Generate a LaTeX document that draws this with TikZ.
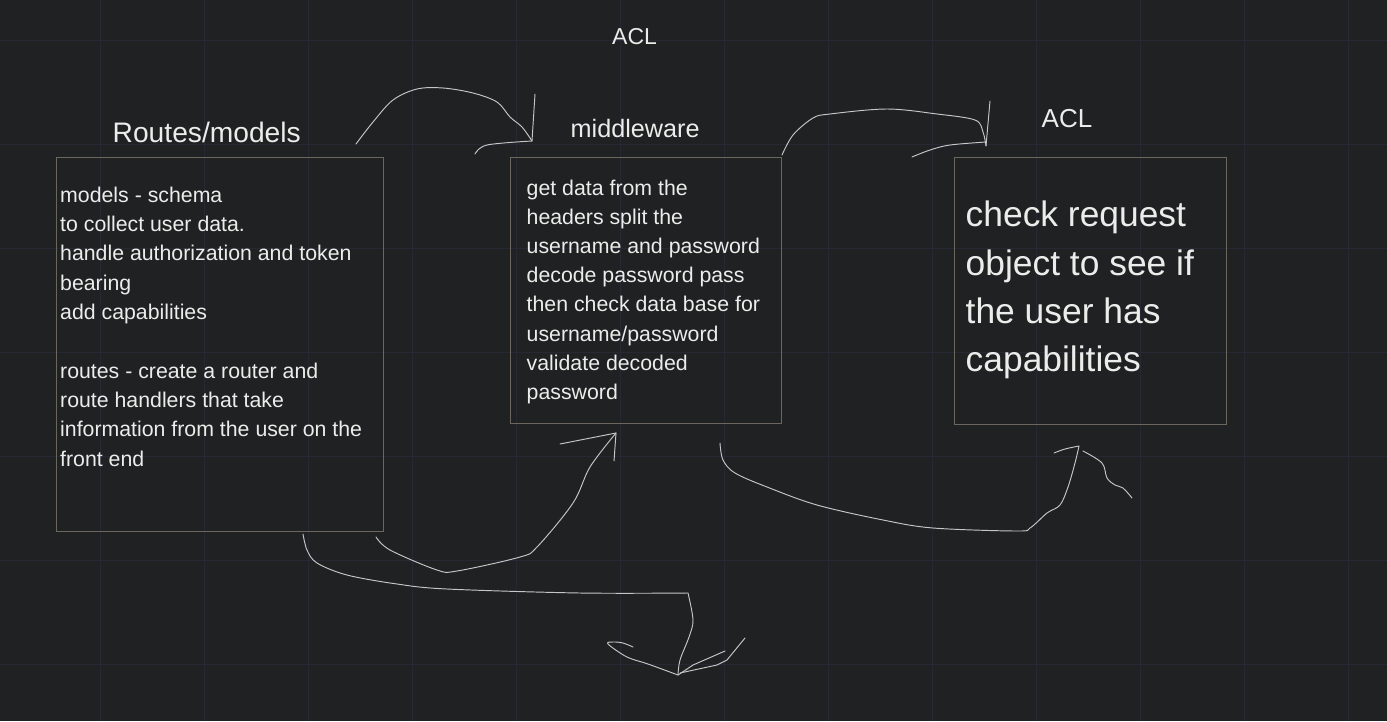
\documentclass[tikz,border=0pt]{standalone}
\usepackage{fontspec}
\setmainfont{Liberation Sans}
\definecolor{bgc}{HTML}{1F2123}
\definecolor{gridc}{HTML}{262833}
\definecolor{boxc}{HTML}{6C675E}
\definecolor{txtc}{HTML}{ECECEA}
\definecolor{penc}{HTML}{C6C6C6}
\newcommand\mylines[1]{\vtop{#1}}
\tikzset{
  panel/.style={draw=boxc, line width=1pt, inner sep=0pt, anchor=north west, rectangle},
  label/.style={text=txtc, inner sep=0pt, anchor=base west},
  pen/.style={draw=penc, line width=0.95pt, line cap=round, line join=round},
  scribble/.style={pen, smooth, tension=0.55}
}
\begin{document}
\begin{tikzpicture}[x=1pt,y=-1pt]
\fill[bgc] (0,0) rectangle (1387,721);
\useasboundingbox (0,0) rectangle (1387,721);
% grid
\foreach \gx in {100,204,...,1400} \draw[gridc, line width=0.8pt] (\gx,0) -- (\gx,721);
\foreach \gy in {40,144,...,700} \draw[gridc, line width=0.8pt] (0,\gy) -- (1387,\gy);

% boxes
\node[panel, minimum width=327pt, minimum height=374pt] (routes) at (56,157) {};
\node[panel, minimum width=271pt, minimum height=266pt] (mid) at (510,157) {};
\node[panel, minimum width=272pt, minimum height=267pt] (acl) at (954,157) {};

% titles
\node[label, font=\fontsize{23}{27}\selectfont] (acltop) at (612,44.3) {ACL};
\node[label, font=\fontsize{28.2}{32}\selectfont] (routestitle) at (112.5,142.7) {Routes/models};
\node[label, font=\fontsize{25.2}{30}\selectfont] (midtitle) at (570.5,137.7) {middleware};
\node[label, font=\fontsize{26}{30}\selectfont] (acltitle) at (1041.5,127.3) {ACL};

% box texts
\node[label, font=\fontsize{21.3}{29.3}\selectfont] (routestext) at (60,202.3) {\mylines{%
\hbox{models - schema}
\hbox{to collect user data.}
\hbox{handle authorization and token}
\hbox{bearing}
\hbox{add capabilities}
\hbox{}
\hbox{routes - create a router and}
\hbox{route handlers that take}
\hbox{information from the user on the}
\hbox{front end}}};
\node[label, font=\fontsize{21.3}{29.2}\selectfont] (midtext) at (526.5,195) {\mylines{%
\hbox{get data from the}
\hbox{headers split the}
\hbox{username and password}
\hbox{decode password pass}
\hbox{then check data base for}
\hbox{username/password}
\hbox{validate decoded}
\hbox{password}}};
\node[label, font=\fontsize{35.4}{48.3}\selectfont] (acltext) at (965.5,226.7) {\mylines{%
\hbox{check request}
\hbox{object to see if}
\hbox{the user has}
\hbox{capabilities}}};

% connector end points
\coordinate (c1s) at (356,144);
\coordinate (c1e) at (532,141);
\coordinate (c2s) at (782,155);
\coordinate (c2e) at (986,146);
\coordinate (c3s) at (376,537);
\coordinate (c3e) at (616,433);
\coordinate (c4s) at (303,534);
\coordinate (c4k) at (688,593);
\coordinate (c4e) at (678,675);
\coordinate (c5s) at (720,443);
\coordinate (c5e) at (1079,446);

% routes -> middleware (top)
\draw[scribble] plot coordinates {(c1s) (373,122) (393,100) (417,89) (443,88) (473,93) (497,102) (510,117) (522,127) (c1e)};
\draw[pen] (535,94) -- (c1e);
\draw[scribble] plot coordinates {(c1e) (487,145) (475,154)};

% middleware -> ACL (top)
\draw[scribble] plot coordinates {(c2s) (793,135) (813,118) (830,114) (887,109) (937,114) (975,120) (983,132) (c2e)};
\draw[pen] (990,101) -- (c2e);
\draw[scribble] plot coordinates {(986,142) (950,145) (930,150) (912,157)};

% routes -> middleware (bottom)
\draw[scribble] plot coordinates {(c3s) (390,550) (437,570) (457,571) (520,557) (537,547) (573,503) (590,467) (c3e)};
\draw[pen] (560,444) -- (c3e);
\draw[pen] (614,461) -- (c3e);

% routes -> down
\draw[scribble] plot coordinates {(c4s) (307,550) (317,563) (347,575) (397,584) (447,589) (580,593) (c4k)};
\draw[scribble] plot coordinates {(c4k) (693,620) (689,637) (680,660) (c4e)};
\draw[scribble] plot coordinates {(c4e) (648,664) (627,657) (608,644) (613,642) (623,643) (633,647)};
\draw[pen] (c4e) -- (693,665) -- (725,651);
\draw[pen] (680,673) -- (717,665) -- (727,660) -- (745,638);

% middleware -> ACL (bottom)
\draw[scribble] plot coordinates {(c5s) (723,460) (735,473) (767,487) (817,505) (883,520) (933,528) (1017,531) (1030,528) (1047,513) (1060,505) (1068,487) (1075,463) (c5e)};
\draw[scribble] plot coordinates {(1054,453) (1065,449) (c5e)};
\draw[scribble] plot coordinates {(1083,451) (1102,463) (1107,478) (1115,485) (1123,488) (1132,498)};
\end{tikzpicture}
\end{document}
